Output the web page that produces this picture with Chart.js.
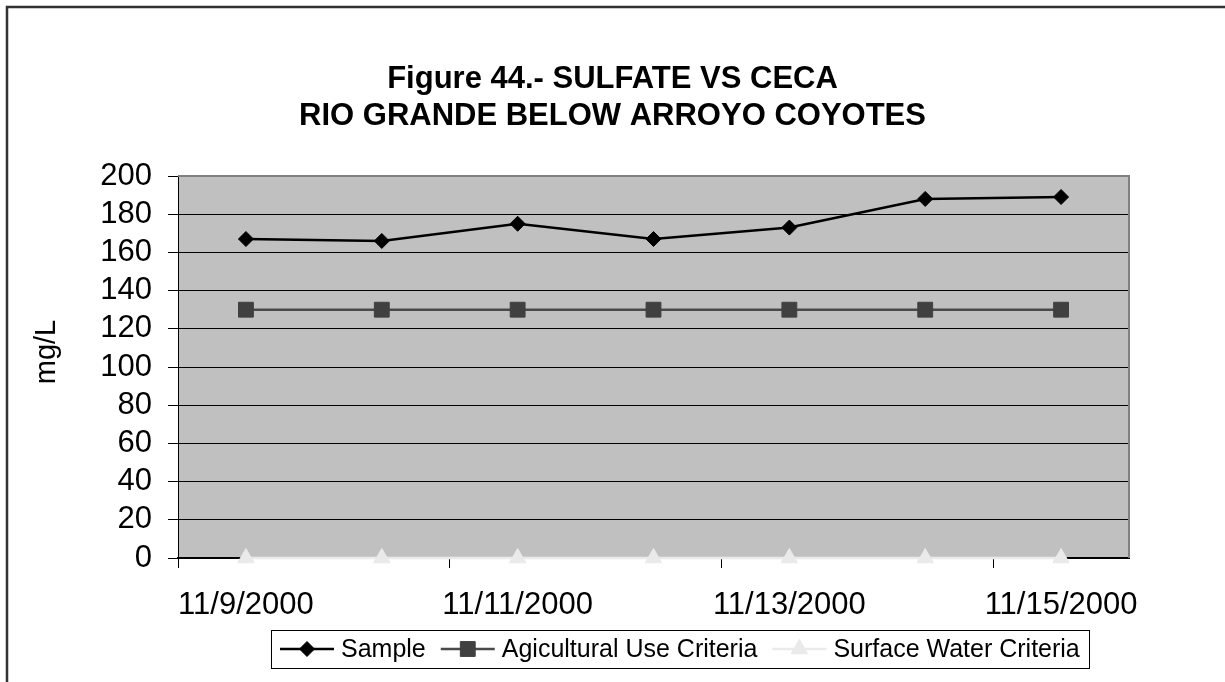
<!DOCTYPE html>
<html>
<head>
<meta charset="utf-8">
<title>Sulfate vs CECA</title>
<script src="https://cdn.jsdelivr.net/npm/chart.js@4.4.1/dist/chart.umd.min.js"></script>
<style>
  html, body { margin: 0; padding: 0; background: #ffffff; }
  #wrap { width: 1225px; height: 682px; position: relative; }
</style>
</head>
<body>
<div id="wrap"><canvas id="chart" width="1225" height="682"></canvas></div>
<script>
// Sampling dates along the river reach
const dates = ['11/9/2000', '11/10/2000', '11/11/2000', '11/12/2000', '11/13/2000', '11/14/2000', '11/15/2000'];

// Sulfate concentrations, mg/L
const sample = [167, 166, 175, 167, 173, 188, 189];
const agriculturalCriteria = [130, 130, 130, 130, 130, 130, 130];
const surfaceWaterCriteria = [0, 0, 0, 0, 0, 0, 0];

const seriesNames = ['Sample', 'Agicultural Use Criteria', 'Surface Water Criteria'];
const titleLines = ['Figure 44.- SULFATE VS CECA', 'RIO GRANDE BELOW ARROYO COYOTES'];
const yAxisLabel = 'mg/L';
const yMin = 0, yMax = 200, yStep = 20;

const FONT = '"Liberation Sans", Arial, Helvetica, sans-serif';

// Grey plot background plus the lighter frame on the top and right of the plot
const plotFrame = {
  id: 'plotFrame',
  beforeDraw(chart) {
    const { ctx, chartArea: a } = chart;
    ctx.save();
    ctx.fillStyle = '#ffffff';
    ctx.fillRect(0, 0, chart.width, chart.height);
    ctx.fillStyle = '#c0c0c0';
    ctx.fillRect(a.left, a.top, a.right - a.left, a.bottom - a.top);
    ctx.restore();
  },
  beforeDatasetsDraw(chart) {
    const { ctx, chartArea: a } = chart;
    ctx.save();
    ctx.strokeStyle = '#808080';
    ctx.lineWidth = 2;
    ctx.beginPath();
    ctx.moveTo(a.left, a.top);
    ctx.lineTo(a.right, a.top);
    ctx.lineTo(a.right, a.bottom);
    ctx.stroke();
    ctx.restore();
  },
  afterDraw(chart) {
    const ctx = chart.ctx;
    const a = chart.chartArea;
    ctx.save();
    // vertical axis caption, set slightly above the middle of the value axis
    ctx.fillStyle = '#000000';
    ctx.font = '29px ' + FONT;
    ctx.textAlign = 'center';
    ctx.textBaseline = 'middle';
    ctx.translate(47, (a.top + a.bottom) / 2 - 15);
    ctx.rotate(-Math.PI / 2);
    ctx.fillText(yAxisLabel, 0, 0);
    ctx.restore();

    // outer border of the chart object
    ctx.save();
    ctx.strokeStyle = '#333333';
    ctx.lineWidth = 2.5;
    ctx.beginPath();
    ctx.moveTo(7, chart.height);
    ctx.lineTo(7, 7);
    ctx.lineTo(chart.width, 7);
    ctx.stroke();
    ctx.restore();
  }
};

// Boxed legend under the axis: line sample with marker, then the series name
const boxedLegend = {
  id: 'boxedLegend',
  afterDraw(chart) {
    const ctx = chart.ctx;
    const sets = chart.data.datasets;
    ctx.save();
    ctx.font = '25px ' + FONT;
    const widths = sets.map(ds => ctx.measureText(ds.label).width);
    const swatch = 54, gapText = 7, gapItem = 15, padX = 9;
    const total = widths.reduce((s, w) => s + swatch + gapText + w, 0) + gapItem * (sets.length - 1);
    const centerX = 679.5;
    const boxL = Math.round(centerX - total / 2 - padX);
    const boxW = Math.round(total + 2 * padX);
    const top = 630, h = 38, cy = top + h / 2;
    ctx.fillStyle = '#ffffff';
    ctx.fillRect(boxL, top, boxW, h);
    ctx.strokeStyle = '#000000';
    ctx.lineWidth = 1;
    ctx.strokeRect(boxL + 0.5, top + 0.5, boxW, h);
    let x = boxL + padX;
    sets.forEach((ds, i) => {
      ctx.strokeStyle = ds.borderColor;
      ctx.lineWidth = ds.borderWidth;
      ctx.beginPath();
      ctx.moveTo(x, cy);
      ctx.lineTo(x + swatch, cy);
      ctx.stroke();
      ctx.fillStyle = ds.pointBackgroundColor;
      ctx.strokeStyle = ds.pointBorderColor;
      ctx.lineWidth = ds.pointBorderWidth;
      Chart.helpers.drawPoint(ctx, {
        pointStyle: ds.pointStyle,
        radius: ds.pointRadius,
        borderWidth: ds.pointBorderWidth,
        rotation: 0
      }, x + swatch / 2, cy);
      ctx.fillStyle = '#000000';
      ctx.textBaseline = 'middle';
      ctx.textAlign = 'left';
      ctx.fillText(ds.label, x + swatch + gapText, cy + 1);
      x += swatch + gapText + widths[i] + gapItem;
    });
    ctx.restore();
  }
};

new Chart(document.getElementById('chart'), {
  type: 'line',
  data: {
    labels: dates,
    datasets: [
      {
        label: seriesNames[0],
        data: sample,
        borderColor: '#000000',
        borderWidth: 2.5,
        pointStyle: 'rectRot',
        pointRadius: 7.5,
        pointBackgroundColor: '#000000',
        pointBorderColor: '#000000',
        pointBorderWidth: 1,
        tension: 0,
        clip: false
      },
      {
        label: seriesNames[1],
        data: agriculturalCriteria,
        borderColor: '#4a4a4a',
        borderWidth: 2.5,
        pointStyle: 'rect',
        pointRadius: 10.5,
        pointBackgroundColor: '#404040',
        pointBorderColor: '#404040',
        pointBorderWidth: 1,
        tension: 0,
        clip: false
      },
      {
        label: seriesNames[2],
        data: surfaceWaterCriteria,
        borderColor: '#eaeaea',
        borderWidth: 2.5,
        pointStyle: 'triangle',
        pointRadius: 9.5,
        pointBackgroundColor: '#eaeaea',
        pointBorderColor: '#eaeaea',
        pointBorderWidth: 1,
        tension: 0,
        clip: false
      }
    ]
  },
  options: {
    responsive: false,
    animation: false,
    devicePixelRatio: 1,
    layout: { padding: 0 },
    plugins: {
      legend: { display: false },
      tooltip: { enabled: false },
      title: {
        display: true,
        text: titleLines,
        color: '#000000',
        font: { family: FONT, size: 31, weight: 'bold', lineHeight: 1.2 },
        padding: { top: 60.4, bottom: 41.2 }
      }
    },
    scales: {
      x: {
        type: 'category',
        offset: true,
        border: { display: true, color: '#000000', width: 2 },
        grid: {
          offset: true,
          drawOnChartArea: false,
          drawTicks: true,
          tickLength: 10,
          tickWidth: 1,
          tickColor: ctx => (ctx.index !== undefined && ctx.index % 2 === 0) ? '#000000' : 'rgba(0,0,0,0)'
        },
        ticks: {
          autoSkip: false,
          maxRotation: 0,
          minRotation: 0,
          padding: 19,
          color: '#000000',
          font: { family: FONT, size: 31 },
          callback: (value, index) => index % 2 === 0 ? dates[index] : ''
        },
        afterFit(scale) { scale.height = 124; }
      },
      y: {
        min: yMin,
        max: yMax,
        border: { display: true, color: '#000000', width: 1 },
        grid: {
          color: '#000000',
          lineWidth: 1,
          drawTicks: true,
          tickLength: 10
        },
        ticks: {
          stepSize: yStep,
          autoSkip: false,
          padding: 16,
          color: '#000000',
          font: { family: FONT, size: 31 }
        },
        afterFit(scale) { scale.width = 178; }
      },
      // empty margin on the right of the plot, keeps the title centred on the page
      rightMargin: {
        type: 'linear',
        position: 'right',
        display: true,
        border: { display: false },
        grid: { display: false, drawOnChartArea: false, drawTicks: false },
        ticks: { display: false },
        afterFit(scale) { scale.width = 96; }
      }
    }
  },
  plugins: [plotFrame, boxedLegend]
});
</script>
</body>
</html>
